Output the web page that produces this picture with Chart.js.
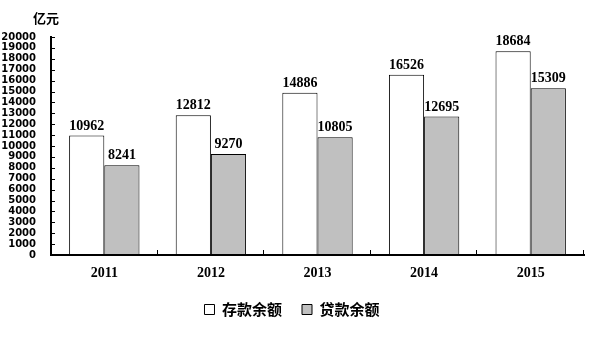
<!DOCTYPE html>
<html>
<head>
<meta charset="utf-8">
<script src="https://cdn.jsdelivr.net/npm/chart.js@4/dist/chart.umd.min.js"></script>
<style>
  html, body { margin: 0; padding: 0; background: #fff; }
  #wrap { width: 589px; height: 337px; position: relative; }
</style>
</head>
<body>
<div id="wrap"><canvas id="chart" width="589" height="337"></canvas></div>
<script>
const years = ['2011', '2012', '2013', '2014', '2015'];
const deposits = [10962, 12812, 14886, 16526, 18684];
const loans = [8241, 9270, 10805, 12695, 15309];
const seriesNames = ['存款余额', '贷款余额'];
const unitLabel = '亿元';

const extras = {
  id: 'extras',
  afterDraw: (chart) => {
    const { ctx, scales, chartArea } = chart;
    const x = scales.x;
    const y = scales.y;
    ctx.save();
    ctx.strokeStyle = '#000';
    // axis lines on top of bars
    ctx.lineWidth = 2;
    ctx.beginPath();
    ctx.moveTo(chartArea.left, chartArea.top - 1);
    ctx.lineTo(chartArea.left, chartArea.bottom);
    ctx.lineTo(chartArea.right, chartArea.bottom);
    ctx.stroke();
    ctx.lineWidth = 1;
    // inward y ticks
    y.ticks.forEach((t) => {
      const py = Math.round(y.getPixelForValue(t.value)) + 0.5;
      ctx.beginPath();
      ctx.moveTo(chartArea.left, py);
      ctx.lineTo(chartArea.left + 4, py);
      ctx.stroke();
    });
    // category boundary ticks on x axis
    const step = x.getPixelForValue(1) - x.getPixelForValue(0);
    for (let i = 1; i <= years.length; i++) {
      const px = Math.round(x.getPixelForValue(i - 1) + step / 2) - 0.5;
      ctx.beginPath();
      ctx.moveTo(px, chartArea.bottom);
      ctx.lineTo(px, chartArea.bottom - 5);
      ctx.stroke();
    }
    // value labels
    ctx.fillStyle = '#000';
    ctx.font = 'bold 14px "Liberation Serif"';
    ctx.textAlign = 'center';
    ctx.textBaseline = 'alphabetic';
    chart.data.datasets.forEach((ds, di) => {
      chart.getDatasetMeta(di).data.forEach((bar, i) => {
        ctx.fillText(String(ds.data[i]), bar.x, bar.y - 6);
      });
    });
    // unit label
    ctx.font = 'bold 13px "Noto Sans CJK SC"';
    ctx.textAlign = 'left';
    ctx.textBaseline = 'middle';
    ctx.fillText(unitLabel, 33, 18);
    ctx.restore();
  },
};

new Chart(document.getElementById('chart').getContext('2d'), {
  type: 'bar',
  data: {
    labels: years,
    datasets: [
      {
        label: seriesNames[0],
        data: deposits,
        backgroundColor: '#ffffff',
        borderColor: '#000000',
        borderWidth: 1,
        borderSkipped: 'bottom',
        barPercentage: 1,
        categoryPercentage: 0.66,
      },
      {
        label: seriesNames[1],
        data: loans,
        backgroundColor: '#c0c0c0',
        borderColor: '#000000',
        borderWidth: 1,
        borderSkipped: 'bottom',
        barPercentage: 1,
        categoryPercentage: 0.66,
      },
    ],
  },
  plugins: [extras],
  options: {
    responsive: false,
    animation: false,
    devicePixelRatio: 1,
    layout: { padding: { top: 37, left: 0, right: 5, bottom: 10 } },
    plugins: {
      tooltip: { enabled: false },
      legend: {
        position: 'bottom',
        labels: {
          color: '#000',
          boxWidth: 10,
          boxHeight: 10,
          padding: 20,
          font: { family: '"Noto Sans CJK SC"', size: 15, weight: 'bold' },
        },
      },
    },
    scales: {
      x: {
        grid: { display: false },
        border: { color: '#000', width: 2 },
        ticks: {
          color: '#000',
          padding: 2,
          font: { family: '"Liberation Serif"', size: 14, weight: 'bold' },
        },
        afterFit: (scale) => { scale.height = 27; },
      },
      y: {
        min: 0,
        max: 20000,
        grid: { display: false },
        border: { color: '#000', width: 2 },
        ticks: {
          stepSize: 1000,
          autoSkip: false,
          color: '#000',
          padding: 7,
          font: { family: '"DejaVu Sans"', size: 10, weight: 'bold' },
          callback: (value) => String(value),
        },
        afterFit: (scale) => { scale.width = 51; },
      },
    },
  },
});
</script>
</body>
</html>
